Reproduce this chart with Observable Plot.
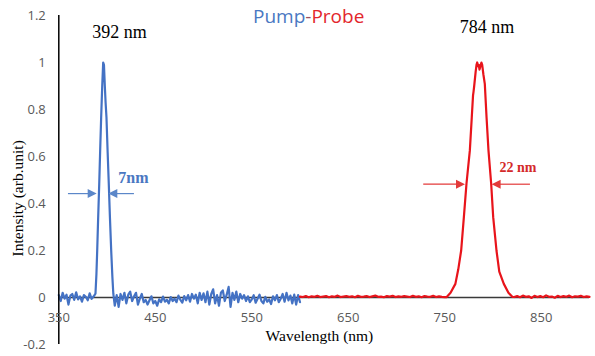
<!DOCTYPE html>
<html><head><meta charset="utf-8">
<script src="https://cdn.jsdelivr.net/npm/d3@7"></script>
<script src="https://cdn.jsdelivr.net/npm/@observablehq/plot@0.6"></script>
<style>
html,body{margin:0;padding:0;background:#fff;}
#wrap{position:relative;width:595px;height:356px;overflow:hidden;}
#wrap svg{position:absolute;left:0;top:0;}
#title{position:absolute;left:253px;top:3px;font-family:"Open Sans";font-size:19px;white-space:nowrap;z-index:2;line-height:normal;}
</style></head><body>
<div id="wrap"><div id="title"><span style="color:#4a78c2">Pump</span><span style="color:#9a5060">-</span><span style="color:#e3262b">Probe</span></div></div>
<script>
// ---- data ----
const xTicks = [350, 450, 550, 650, 750, 850];
const yTicks = [-0.2, 0, 0.2, 0.4, 0.6, 0.8, 1, 1.2];
const yTickLabels = ["-0.2", "0", "0.2", "0.4", "0.6", "0.8", "1", "1.2"];

// pump (blue) : noise 350..386 nm every 2 nm
const blueNoiseA = [0.01, -0.015, 0.02, -0.005, 0.012, -0.03, 0.008, 0.015, -0.01, 0.022,
  -0.008, 0.005, -0.018, 0.01, 0.003, -0.012, 0.018, -0.006, 0.004];
// pump peak
const bluePeakWl = [388.0, 389.0, 389.8, 390.8, 391.9, 392.9, 393.9, 395.0, 396.0, 396.8,
  397.7, 398.5, 399.4, 400.6, 401.8, 403.0, 404.3, 405.5, 406.5];
const bluePeakI = [0.016, 0.1, 0.2, 0.34, 0.484, 0.63, 0.767, 0.9, 1.0, 0.99,
  0.9, 0.83, 0.767, 0.62, 0.484, 0.34, 0.2, 0.09, 0.016];
// pump noise 408..600 nm every 2 nm
const blueNoiseB = [-0.035, 0.01, -0.04, 0.015, -0.01, 0.02, -0.025, 0.012, 0.025, -0.015,
  0.005, 0.02, -0.03, -0.005, 0.015, -0.02, -0.01, -0.03, -0.012, 0.005,
  -0.025, -0.015, -0.035, -0.008, -0.02, 0.004, -0.018, -0.01, -0.025, 0.002,
  -0.015, -0.005, -0.02, 0.008, -0.01, -0.022, 0.006, -0.012, 0.01, -0.018,
  0.015, -0.005, 0.012, -0.025, 0.02, -0.01, 0.018, -0.02, 0.025, -0.03,
  0.015, 0.035, -0.025, 0.01, -0.035, 0.02, 0.03, -0.015, 0.012, 0.045,
  -0.04, 0.02, -0.01, 0.025, -0.02, 0.015, -0.005, 0.01, -0.015, 0.005,
  -0.02, -0.008, 0.01, -0.022, -0.005, 0.012, -0.015, -0.025, 0.003, -0.018,
  -0.008, -0.028, 0.005, -0.012, 0.01, -0.02, -0.005, 0.015, -0.018, 0.02,
  -0.012, 0.008, -0.025, 0.012, -0.03, 0.01, -0.02];

// probe (red) : noise 600..750 nm every 3 nm
const redNoiseA = [0.004, 0.002, 0.006, 0.001, 0.005, 0.003, 0.007, 0.002, 0.004, 0.006,
  0.001, 0.005, 0.003, 0.008, 0.002, 0.004, 0.006, 0.003, 0.005, 0.001,
  0.007, 0.003, 0.004, 0.006, 0.002, 0.005, 0.008, 0.003, 0.004, 0.001,
  0.006, 0.004, 0.007, 0.002, 0.005, 0.003, 0.006, 0.004, 0.002, 0.007,
  0.003, 0.005, 0.001, 0.006, 0.004, 0.003, 0.007, 0.002, 0.005, 0.003, 0.002];
// probe peak
const redPeakWl = [752, 756, 761, 764, 767, 769.8, 772.5, 776, 778, 779.3,
  779.8, 780.5, 782, 782.9, 783.6, 784.3, 785.2, 786, 787, 788,
  788.8, 790, 791.5, 793.3, 795.3, 798.1, 800.2, 803.6, 806.5, 811.2, 816, 820];
const redPeakI = [0.002, 0.02, 0.058, 0.12, 0.2, 0.342, 0.484, 0.626, 0.767, 0.86,
  0.875, 0.9, 0.96, 0.99, 1.0, 0.985, 0.99, 0.97, 0.985, 1.0,
  0.99, 0.95, 0.909, 0.767, 0.626, 0.484, 0.342, 0.2, 0.11, 0.058, 0.02, 0.003];
// probe noise 822..900 nm every 3 nm
const redNoiseB = [0.002, 0.006, 0.001, 0.008, 0.003, 0.005, -0.002, 0.007, 0.002, 0.006,
  0.001, 0.009, 0.003, 0.004, -0.001, 0.007, 0.002, 0.006, 0.003, 0.008,
  0.001, 0.005, 0.004, 0.007, 0.002, 0.005, 0.003];

// ---- build tables ----
const grid = (start, step, vals) => vals.map((v, i) => ({wl: start + i * step, v}));
const pairs = (wl, iv) => wl.map((w, i) => ({wl: w, v: iv[i]}));
const blue = [...grid(350, 2, blueNoiseA), ...pairs(bluePeakWl, bluePeakI), ...grid(408, 2, blueNoiseB)];
const red = [...grid(600, 3, redNoiseA), ...pairs(redPeakWl, redPeakI), ...grid(822, 3, redNoiseB)];

const BLUE = "#4472c4", RED = "#e8141b";
const sans = "Open Sans", serif = "Liberation Serif";

const plot = Plot.plot({
  width: 595, height: 356,
  marginLeft: 58.3, marginRight: 6, marginTop: 15, marginBottom: 12,
  x: {domain: [350, 900], axis: null},
  y: {domain: [-0.2, 1.2], axis: null},
  style: {background: "transparent", overflow: "visible"},
  marks: [
    Plot.ruleY([0], {stroke: "#3a3a3a", strokeWidth: 1.5}),
    Plot.line(blue, {x: "wl", y: "v", stroke: BLUE, strokeWidth: 2.2}),
    Plot.line(red, {x: "wl", y: "v", stroke: RED, strokeWidth: 2.2}),
    Plot.ruleX([350], {stroke: "#000", strokeWidth: 1.5}),
    Plot.text(xTicks, {x: d => d, y: 0, dy: 20, text: d => String(d), fontFamily: sans, fontSize: 13, fill: "#595959"}),
    Plot.text(yTicks, {x: 350, y: d => d, dx: -13, textAnchor: "end", text: (d, i) => yTickLabels[i], fontFamily: sans, fontSize: 13, fill: "#595959"}),
    Plot.text(["Wavelength (nm)"], {frameAnchor: "bottom", dx: -4.7, dy: -4, fontFamily: serif, fontSize: 15.5, fill: "#000"}),
    Plot.text(["392 nm"], {x: 412.9, y: 1.127, fontFamily: serif, fontSize: 18, fill: "#000"}),
    Plot.text(["784 nm"], {x: 793.7, y: 1.152, fontFamily: serif, fontSize: 18, fill: "#000"}),
    Plot.text(["7nm"], {x: 427.4, y: 0.51, fontFamily: serif, fontSize: 16, fontWeight: "bold", fill: "#4a78c2"}),
    Plot.text(["22 nm"], {x: 825.9, y: 0.551, fontFamily: serif, fontSize: 14, fontWeight: "bold", fill: "#d42a2a"})
  ]
});

const sx = plot.scale("x"), sy = plot.scale("y");
const svg = d3.select(plot);

// y-axis title, rotated, centred on the 0.4 level of the y scale
svg.append("text")
  .attr("transform", `translate(18.5,${sy.apply(0.42)}) rotate(-90)`)
  .attr("text-anchor", "middle").attr("dy", "0.32em")
  .attr("font-family", serif).attr("font-size", 15.5).attr("fill", "#000")
  .text("Intensity (arb.unit)");

// FWHM arrows (in data units)
const arrows = [
  {from: 360, to: 389.8, y: 0.44, color: "#5b87c9"},
  {from: 428.4, to: 401.8, y: 0.44, color: "#5b87c9"},
  {from: 728.2, to: 771.5, y: 0.48, color: "#e33a3a"},
  {from: 838.8, to: 799.1, y: 0.48, color: "#e33a3a"}
];
arrows.forEach(a => {
  const x1 = sx.apply(a.from), x2 = sx.apply(a.to), y = sy.apply(a.y);
  const dir = Math.sign(x2 - x1);
  svg.append("line").attr("x1", x1).attr("x2", x2 - dir * 8).attr("y1", y).attr("y2", y)
    .attr("stroke", a.color).attr("stroke-width", 1.2);
  svg.append("path").attr("d", `M${x2},${y}L${x2 - dir * 9},${y - 4.5}L${x2 - dir * 9},${y + 4.5}Z`)
    .attr("fill", a.color);
});

document.getElementById("wrap").appendChild(plot);
</script>
</body></html>
